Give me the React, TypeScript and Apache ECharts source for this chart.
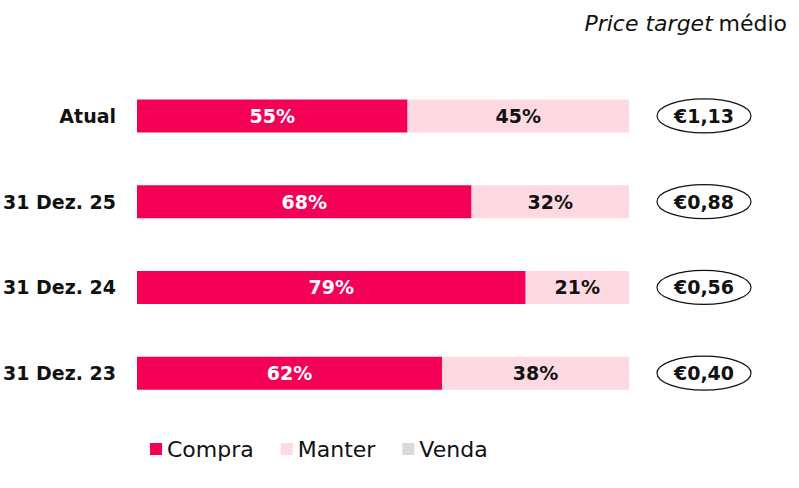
import React, { useEffect, useRef } from 'react';
import * as echarts from 'echarts';

const categories = ['Atual', '31 Dez. 25', '31 Dez. 24', '31 Dez. 23'];
const compra = [55, 68, 79, 62];
const manter = [45, 32, 21, 38];
const venda = [0, 0, 0, 0];
const priceTargets = ['€1,13', '€0,88', '€0,56', '€0,40'];

const FONT = '"DejaVu Sans", sans-serif';
const PINK = '#F50057';
const LIGHT_PINK = '#FFD9E1';
const GREY = '#D9D9D9';

const App: React.FC = () => {
  const chartRef = useRef<HTMLDivElement>(null);

  useEffect(() => {
    if (!chartRef.current) return;
    const chart = echarts.init(chartRef.current, undefined, { renderer: 'svg' });

    const pctLabel = (color: string) => ({
      show: true,
      position: 'inside' as const,
      color,
      fontFamily: FONT,
      fontWeight: 'bold' as const,
      fontSize: 19,
      formatter: (p: any) => (p.value > 0 ? p.value + '%' : ''),
    });

    const option: any = {
      animation: false,
      textStyle: { fontFamily: FONT },
      title: {
        right: 7,
        top: 7,
        text: '{i|Price target} {n|médio}',
        textStyle: {
          fontWeight: 'normal',
          rich: {
            i: { fontFamily: FONT, fontStyle: 'italic', fontWeight: 'normal', fontSize: 22, color: '#111' },
            n: { fontFamily: FONT, fontWeight: 'normal', fontSize: 22, color: '#111' },
          },
        },
      },
      legend: {
        bottom: 23,
        left: 145,
        itemWidth: 12,
        itemHeight: 12,
        itemGap: 27,
        icon: 'rect',
        textStyle: { fontFamily: FONT, fontSize: 22, color: '#111' },
        data: ['Compra', 'Manter', 'Venda'],
      },
      grid: [
        { left: 137, right: 170, top: 73, bottom: 72, outerBoundsMode: 'none' },
        { left: 656, right: 47, top: 73, bottom: 72, outerBoundsMode: 'none' },
      ],
      xAxis: [
        { type: 'value', gridIndex: 0, min: 0, max: 100, show: false },
        { type: 'value', gridIndex: 1, min: -1, max: 1, show: false },
      ],
      yAxis: [
        {
          type: 'category',
          gridIndex: 0,
          inverse: true,
          data: categories,
          axisLine: { show: false },
          axisTick: { show: false },
          axisLabel: {
            margin: 21,
            color: '#111',
            fontFamily: FONT,
            fontWeight: 'bold',
            fontSize: 19,
          },
        },
        {
          type: 'category',
          gridIndex: 1,
          inverse: true,
          data: categories,
          show: false,
        },
      ],
      series: [
        {
          name: 'Compra',
          type: 'bar',
          stack: 'total',
          barWidth: 33,
          itemStyle: { color: PINK },
          label: pctLabel('#fff'),
          data: compra,
        },
        {
          name: 'Manter',
          type: 'bar',
          stack: 'total',
          barWidth: 33,
          itemStyle: { color: LIGHT_PINK },
          label: pctLabel('#111'),
          data: manter,
        },
        {
          name: 'Venda',
          type: 'bar',
          stack: 'total',
          barWidth: 33,
          itemStyle: { color: GREY },
          label: pctLabel('#111'),
          data: venda,
        },
        {
          type: 'custom',
          xAxisIndex: 1,
          yAxisIndex: 1,
          silent: true,
          data: priceTargets.map((t, i) => [0, i, t]),
          renderItem: (params: any, api: any) => {
            const pt = api.coord([0, api.value(1)]);
            const idx = params.dataIndex;
            return {
              type: 'group',
              children: [
                {
                  type: 'ellipse',
                  shape: { cx: pt[0], cy: pt[1], rx: 47, ry: 17 },
                  style: { fill: '#fff', stroke: '#111', lineWidth: 1.2 },
                },
                {
                  type: 'text',
                  x: pt[0],
                  y: pt[1],
                  style: {
                    text: priceTargets[idx],
                    align: 'center',
                    verticalAlign: 'middle',
                    fontFamily: FONT,
                    fontWeight: 'bold',
                    fontSize: 19,
                    fill: '#111',
                  },
                },
              ],
            };
          },
        },
      ],
    };

    chart.setOption(option);
    return () => chart.dispose();
  }, []);

  return (
    <div
      ref={chartRef}
      style={{ position: 'absolute', left: 0, top: 0, width: 799, height: 488 }}
    />
  );
};

export default App;
